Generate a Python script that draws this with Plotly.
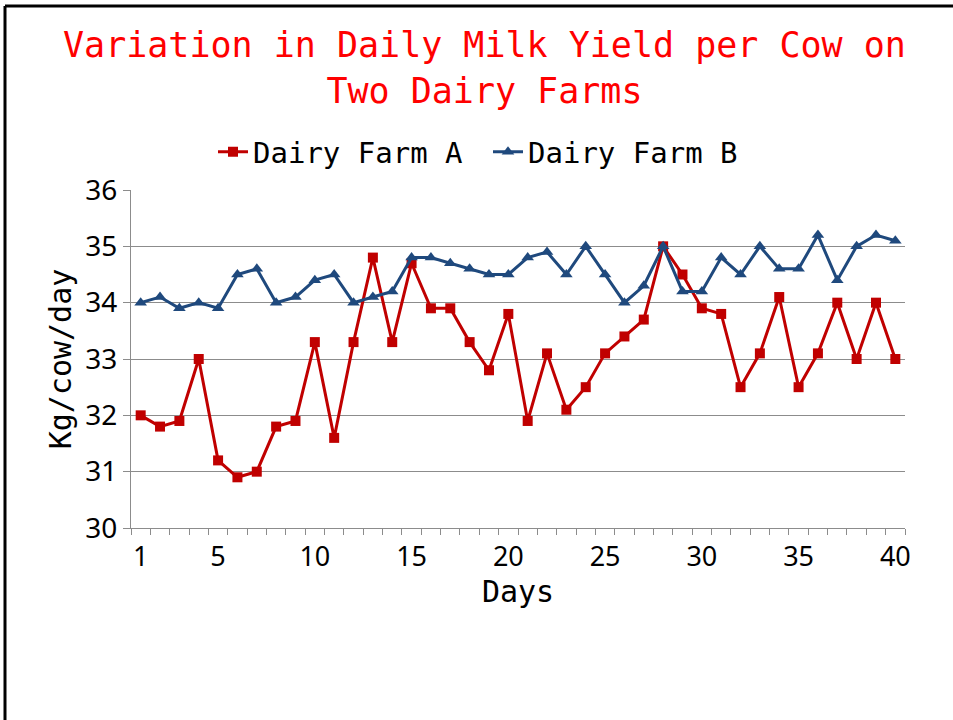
import plotly.graph_objects as go

# Day numbers along the horizontal axis
days = [1, 2, 3, 4, 5, 6, 7, 8, 9, 10,
        11, 12, 13, 14, 15, 16, 17, 18, 19, 20,
        21, 22, 23, 24, 25, 26, 27, 28, 29, 30,
        31, 32, 33, 34, 35, 36, 37, 38, 39, 40]

# Daily milk yield per cow (kg/cow/day)
farm_a = [32.0, 31.8, 31.9, 33.0, 31.2, 30.9, 31.0, 31.8, 31.9, 33.3,
          31.6, 33.3, 34.8, 33.3, 34.7, 33.9, 33.9, 33.3, 32.8, 33.8,
          31.9, 33.1, 32.1, 32.5, 33.1, 33.4, 33.7, 35.0, 34.5, 33.9,
          33.8, 32.5, 33.1, 34.1, 32.5, 33.1, 34.0, 33.0, 34.0, 33.0]

farm_b = [34.0, 34.1, 33.9, 34.0, 33.9, 34.5, 34.6, 34.0, 34.1, 34.4,
          34.5, 34.0, 34.1, 34.2, 34.8, 34.8, 34.7, 34.6, 34.5, 34.5,
          34.8, 34.9, 34.5, 35.0, 34.5, 34.0, 34.3, 35.0, 34.2, 34.2,
          34.8, 34.5, 35.0, 34.6, 34.6, 35.2, 34.4, 35.0, 35.2, 35.1]

x_tick_labels = [1, 5, 10, 15, 20, 25, 30, 35, 40]
y_ticks = [30, 31, 32, 33, 34, 35, 36]

series_names = ["Dairy Farm A", "Dairy Farm B"]
title_lines = ["Variation in Daily Milk Yield per Cow on", "Two Dairy Farms"]

RED = "#C00000"
BLUE = "#1F497D"
GRID = "#8C8C8C"
MONO = "DejaVu Sans Mono"

# Plot-area placement in pixels (953 x 720 page)
W, H = 953, 720
L, R, T, B = 131, 905, 190, 528


def px_x(p):
    return (p - L) / (R - L)


def px_y(p):
    return (B - p) / (B - T)


fig = go.Figure()

fig.add_trace(go.Scatter(
    x=days, y=farm_a, name=series_names[0], mode="lines+markers",
    line=dict(color=RED, width=3),
    marker=dict(symbol="square", size=10, color=RED),
))
fig.add_trace(go.Scatter(
    x=days, y=farm_b, name=series_names[1], mode="lines+markers",
    line=dict(color=BLUE, width=3),
    marker=dict(symbol="triangle-up", size=11, color=BLUE),
))

fig.update_layout(
    width=W, height=H,
    margin=dict(l=L, r=W - R, t=T, b=H - B, pad=0),
    paper_bgcolor="white", plot_bgcolor="white",
    showlegend=True,
    legend=dict(
        orientation="h", x=px_x(213), y=px_y(152),
        xanchor="left", yanchor="middle",
        font=dict(family=MONO, size=29, color="black"),
        itemwidth=30, tracegroupgap=0,
        entrywidth=230, entrywidthmode="pixels",
        bgcolor="rgba(0,0,0,0)",
    ),
    xaxis=dict(
        range=[0.5, 40.5],
        tickmode="array", tickvals=x_tick_labels,
        ticktext=[str(v) for v in x_tick_labels],
        ticks="", showgrid=False, zeroline=False,
        showline=True, linecolor=GRID, linewidth=1,
        tickfont=dict(family="Noto Sans", size=27, color="black"),
        ticklabelstandoff=5,
        minor=dict(tick0=0.5, dtick=1, ticks="outside", ticklen=6,
                   tickcolor=GRID, tickwidth=1, showgrid=False),
        title=dict(text="Days", font=dict(family=MONO, size=30, color="black"),
                   standoff=0),
    ),
    yaxis=dict(
        range=[30, 36], tickmode="array", tickvals=y_ticks,
        ticks="outside", ticklen=7, tickcolor=GRID,
        showgrid=True, gridcolor=GRID, gridwidth=1,
        zeroline=False, showline=True, linecolor=GRID, linewidth=1,
        tickfont=dict(family="Noto Sans", size=28, color="black"),
        title=dict(text="Kg/cow/day", font=dict(family=MONO, size=30, color="black"),
                   standoff=4),
    ),
)

# Chart title
fig.add_annotation(
    text="<br>".join(title_lines), xref="paper", yref="paper",
    x=px_x(484), y=px_y(68), xanchor="center", yanchor="middle",
    showarrow=False, align="center",
    font=dict(family=MONO, size=35, color="#FF0000"),
)

# Slide frame along the left and top edges
fig.add_shape(type="line", xref="paper", yref="paper",
              x0=px_x(5), x1=px_x(5), y0=px_y(H + 5), y1=px_y(6),
              line=dict(color="black", width=3))
fig.add_shape(type="line", xref="paper", yref="paper",
              x0=px_x(5), x1=px_x(W + 5), y0=px_y(6), y1=px_y(6),
              line=dict(color="black", width=3))

fig.write_html("out.html")
